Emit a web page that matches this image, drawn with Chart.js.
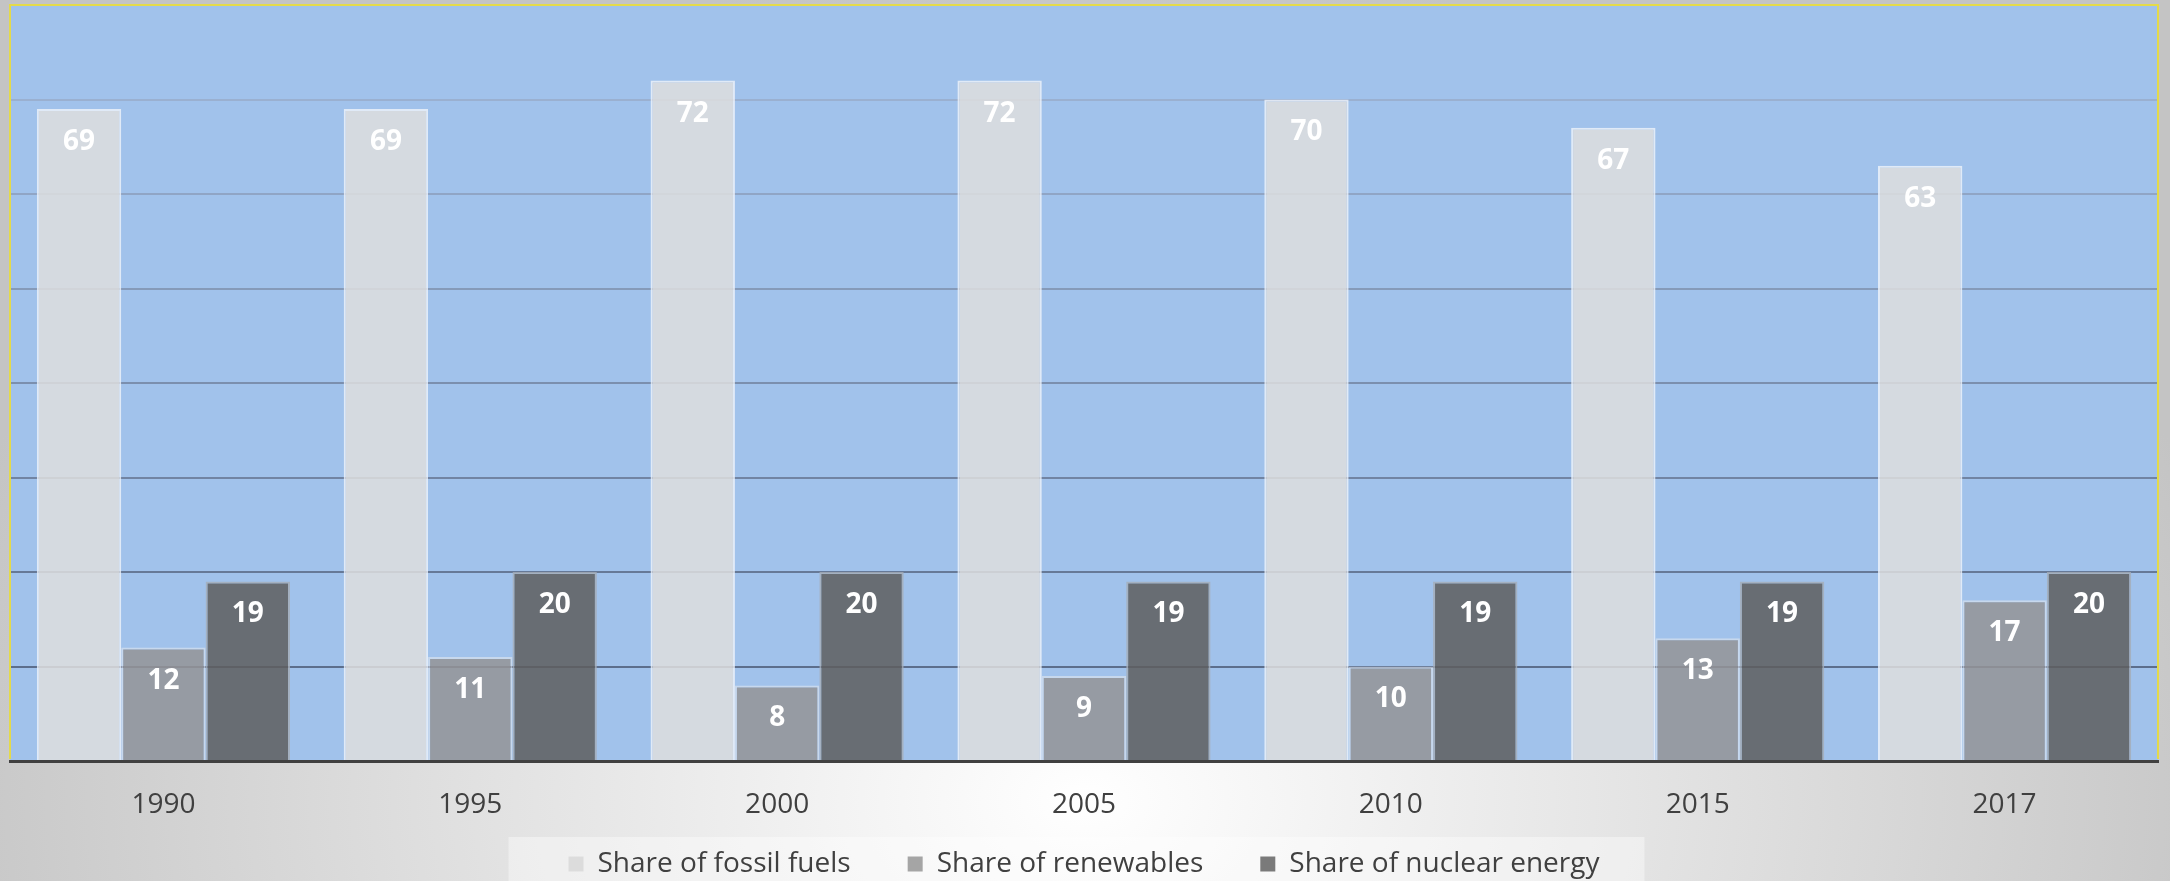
<!DOCTYPE html>
<html>
<head>
<meta charset="utf-8">
<script src="https://cdn.jsdelivr.net/npm/chart.js@4.4.0/dist/chart.umd.min.js"></script>
<style>
  html, body { margin: 0; padding: 0; }
  body {
    width: 2170px;
    height: 881px;
    overflow: hidden;
    background: radial-gradient(1200px 840px at 1085px 800px, #ffffff 0%, #c4c4c4 100%);
  }
  #wrap { position: relative; width: 2170px; height: 881px; }
</style>
</head>
<body>
<div id="wrap"><canvas id="energy-chart"></canvas></div>
<script>
// Years on the x axis
const years = ['1990', '1995', '2000', '2005', '2010', '2015', '2017'];

// Shares of the energy mix, in percent
const fossilShare = [69, 69, 72, 72, 70, 67, 63];
const renewableShare = [12, 11, 8, 9, 10, 13, 17];
const nuclearShare = [19, 20, 20, 19, 19, 19, 20];

const seriesNames = ['Share of fossil fuels', 'Share of renewables', 'Share of nuclear energy'];

// Bars are slightly see-through so the blue backdrop tints them
const barColors = ['rgba(222, 222, 222, 0.85)', 'rgba(148, 148, 150, 0.85)', 'rgba(94, 94, 94, 0.85)'];
const barEdges = ['rgba(240, 244, 250, 0.8)', 'rgba(225, 230, 238, 0.6)', 'rgba(165, 172, 182, 0.8)'];
const legendColors = ['#dcdcdc', '#a5a5a5', '#7a7a7a'];

// Gridlines get darker towards the bottom of the plot
const gridColor = function gridColorForValue(value) {
  if (value <= 0 || value >= 80) return 'rgba(0, 0, 0, 0)';
  const f = (value - 10) / 60;
  const r = Math.round(92 + 62 * f);
  const g = Math.round(110 + 66 * f);
  const b = Math.round(140 + 68 * f);
  return `rgb(${r}, ${g}, ${b})`;
};

// Blue plot backdrop, yellow frame and the pale strip behind the legend
const plotFrame = {
  id: 'plotFrame',
  afterLayout(chart) {
    // pull the legend up, closer to the year labels
    chart.legend.top -= 56;
    chart.legend.bottom -= 56;
  },
  beforeDraw(chart) {
    const { ctx, chartArea: a, legend } = chart;
    ctx.save();
    const boxes = legend.legendHitBoxes;
    if (boxes && boxes.length) {
      const first = boxes[0];
      const last = boxes[boxes.length - 1];
      const x0 = first.left - 60;
      const x1 = last.left + last.width + 45;
      ctx.fillStyle = 'rgba(255, 255, 255, 0.4)';
      ctx.fillRect(x0, legend.top + 44, x1 - x0, chart.height);
    }
    ctx.fillStyle = '#a1c2eb';
    ctx.fillRect(a.left, a.top, a.right - a.left, a.bottom - a.top);
    ctx.restore();
  },
  afterDraw(chart) {
    const { ctx, chartArea: a } = chart;
    ctx.save();
    ctx.strokeStyle = '#e4da4a';
    ctx.lineWidth = 2;
    ctx.beginPath();
    ctx.moveTo(a.left, a.bottom - 2);
    ctx.lineTo(a.left, a.top);
    ctx.lineTo(a.right, a.top);
    ctx.lineTo(a.right, a.bottom - 2);
    ctx.stroke();
    ctx.restore();
  },
};

// White value labels near the top of every bar
const valueLabels = {
  id: 'valueLabels',
  afterDatasetsDraw(chart) {
    const ctx = chart.ctx;
    ctx.save();
    ctx.font = 'bold 28px "Open Sans"';
    ctx.fillStyle = '#ffffff';
    ctx.textAlign = 'center';
    ctx.textBaseline = 'middle';
    chart.data.datasets.forEach((ds, i) => {
      chart.getDatasetMeta(i).data.forEach((bar, j) => {
        ctx.fillText(ds.data[j], bar.x, bar.y + 33);
      });
    });
    ctx.restore();
  },
};

const makeDataset = function makeDataset(index, values) {
  return {
    label: seriesNames[index],
    data: values,
    backgroundColor: barColors[index],
    borderColor: barEdges[index],
    borderWidth: 2,
    categoryPercentage: 0.825,
    barPercentage: 1,
  };
};

new Chart(document.getElementById('energy-chart'), {
  type: 'bar',
  data: {
    labels: years,
    datasets: [
      makeDataset(0, fossilShare),
      makeDataset(1, renewableShare),
      makeDataset(2, nuclearShare),
    ],
  },
  options: {
    responsive: true,
    maintainAspectRatio: false,
    animation: false,
    layout: { padding: { left: 10, right: 12, top: 5, bottom: -63 } },
    scales: {
      x: {
        grid: { display: true, drawOnChartArea: false, drawTicks: false },
        border: { display: true, color: '#404040', width: 3 },
        ticks: {
          color: '#404040',
          font: { family: 'Open Sans', size: 28, lineHeight: 1 },
          padding: 30,
        },
      },
      y: {
        min: 0,
        max: 80,
        ticks: { display: false, stepSize: 10 },
        grid: {
          color: (ctx) => gridColor(ctx.tick.value),
          lineWidth: 2,
          drawTicks: false,
        },
        border: { display: false },
      },
    },
    plugins: {
      tooltip: { enabled: false },
      legend: {
        position: 'bottom',
        labels: {
          color: '#404040',
          font: { family: 'Open Sans', size: 28 },
          boxWidth: 15,
          boxHeight: 15,
          padding: 57,
          generateLabels(chart) {
            const items = Chart.defaults.plugins.legend.labels.generateLabels(chart);
            return items.map((item, i) => ({
              ...item,
              fillStyle: legendColors[i],
              strokeStyle: legendColors[i],
              lineWidth: 0,
            }));
          },
        },
      },
    },
  },
  plugins: [plotFrame, valueLabels],
});
</script>
</body>
</html>
